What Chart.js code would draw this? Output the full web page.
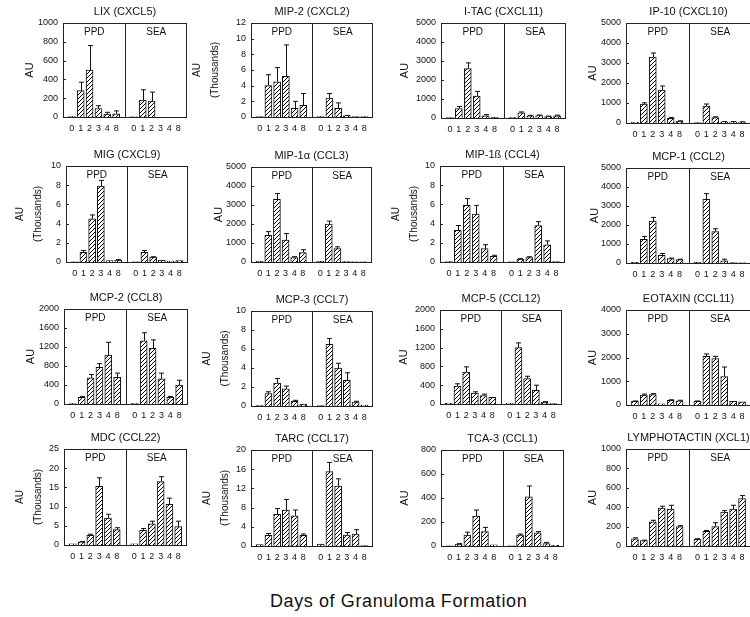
<!DOCTYPE html>
<html><head><meta charset="utf-8">
<script src="https://cdn.jsdelivr.net/npm/chart.js@4.4.1/dist/chart.umd.min.js"></script>
<style>
html,body{margin:0;padding:0;background:#fff;overflow:hidden;width:750px;height:617px;position:relative}
canvas{position:absolute}
#xlabel{position:absolute;left:270px;top:591px;white-space:nowrap;font:18px/21px "Liberation Sans",Arial,sans-serif;color:#111;letter-spacing:0.6px}
</style></head><body>
<div id="xlabel">Days of Granuloma Formation</div>
<script>
// ---------- data ----------
const DAYS = ['0','1','2','3','4','8'];
const GROUPS = ['PPD','SEA'];
const TITLES = ['LIX (CXCL5)','MIP-2 (CXCL2)','I-TAC (CXCL11)','IP-10 (CXCL10)',
  'MIG (CXCL9)','MIP-1\u03b1 (CCL3)','MIP-1\u00df (CCL4)','MCP-1 (CCL2)',
  'MCP-2 (CCL8)','MCP-3 (CCL7)','MCP-5 (CCL12)','EOTAXIN (CCL11)',
  'MDC (CCL22)','TARC (CCL17)','TCA-3 (CCL1)','LYMPHOTACTIN (XCL1)'];
const Y_MAX  = [1000, 12, 5000, 5000, 10, 5000, 10, 5000, 2000, 10, 2000, 4000, 25, 20, 800, 1000];
const Y_STEP = [200, 2, 1000, 1000, 2, 1000, 2, 1000, 400, 2, 400, 1000, 5, 4, 200, 200];
const THOUSANDS = [false,true,false,false, true,false,true,false, false,true,false,false, true,true,false,false];

const LIX_PPD = [5, 280, 500, 90, 30, 35];        const LIX_PPD_ERR = [0, 90, 260, 30, 20, 30];
const LIX_SEA = [3, 180, 170, 0, 0, 0];            const LIX_SEA_ERR = [0, 110, 95, 0, 0, 0];
const MIP2_PPD = [0.05, 4.0, 4.5, 5.2, 1.1, 1.5];  const MIP2_PPD_ERR = [0, 1.4, 1.8, 4.0, 0.9, 1.5];
const MIP2_SEA = [0.05, 2.4, 1.1, 0.15, 0.05, 0.05]; const MIP2_SEA_ERR = [0, 0.6, 0.7, 0.05, 0, 0];
const ITAC_PPD = [20, 500, 2600, 1150, 120, 30];   const ITAC_PPD_ERR = [0, 100, 300, 250, 60, 0];
const ITAC_SEA = [20, 270, 110, 130, 80, 120];     const ITAC_SEA_ERR = [0, 50, 30, 30, 20, 30];
const IP10_PPD = [30, 950, 3300, 1650, 230, 80];   const IP10_PPD_ERR = [0, 60, 200, 200, 50, 30];
const IP10_SEA = [20, 850, 270, 60, 60, 50];       const IP10_SEA_ERR = [0, 100, 40, 10, 10, 10];
const MIG_PPD = [0.02, 1.0, 4.5, 7.9, 0.15, 0.2];  const MIG_PPD_ERR = [0, 0.2, 0.4, 0.6, 0, 0.05];
const MIG_SEA = [0.02, 1.0, 0.5, 0.2, 0.1, 0.15];  const MIG_SEA_ERR = [0, 0.2, 0.05, 0, 0, 0];
const MIP1A_PPD = [30, 1400, 3300, 1150, 230, 500]; const MIP1A_PPD_ERR = [0, 200, 300, 350, 50, 150];
const MIP1A_SEA = [30, 2000, 700, 20, 10, 10];      const MIP1A_SEA_ERR = [0, 150, 100, 0, 0, 0];
const MIP1B_PPD = [0.05, 3.3, 5.9, 5.0, 1.4, 0.6];  const MIP1B_PPD_ERR = [0, 0.5, 0.7, 0.9, 0.4, 0.1];
const MIP1B_SEA = [0.02, 0.3, 0.45, 3.8, 1.8, 0.05]; const MIP1B_SEA_ERR = [0, 0.05, 0.1, 0.4, 0.4, 0];
const MCP1_PPD = [30, 1250, 2200, 400, 230, 180];  const MCP1_PPD_ERR = [0, 150, 200, 100, 30, 20];
const MCP1_SEA = [30, 3350, 1650, 120, 20, 10];    const MCP1_SEA_ERR = [0, 300, 150, 80, 0, 0];
const MCP2_PPD = [10, 140, 550, 770, 1030, 560];   const MCP2_PPD_ERR = [0, 20, 70, 80, 270, 90];
const MCP2_SEA = [10, 1330, 1170, 530, 140, 400];  const MCP2_SEA_ERR = [0, 170, 180, 120, 20, 100];
const MCP3_PPD = [0.05, 1.3, 2.4, 1.8, 0.5, 0.2];  const MCP3_PPD_ERR = [0, 0.2, 0.5, 0.3, 0.1, 0];
const MCP3_SEA = [0.05, 6.5, 4.0, 2.7, 0.4, 0.1];  const MCP3_SEA_ERR = [0, 0.6, 0.5, 0.8, 0.1, 0];
const MCP5_PPD = [20, 380, 680, 230, 180, 140];    const MCP5_PPD_ERR = [0, 50, 110, 30, 30, 0];
const MCP5_SEA = [20, 1200, 540, 290, 40, 10];     const MCP5_SEA_ERR = [0, 100, 50, 110, 10, 0];
const EOT_PPD = [150, 420, 440, 50, 200, 180];     const EOT_PPD_ERR = [20, 40, 40, 0, 20, 20];
const EOT_SEA = [150, 2050, 1950, 1200, 150, 130]; const EOT_SEA_ERR = [20, 100, 100, 400, 0, 0];
const MDC_PPD = [0.3, 0.8, 2.5, 15.3, 7.0, 4.0];   const MDC_PPD_ERR = [0, 0.1, 0.3, 2.2, 1.0, 0.5];
const MDC_SEA = [0.3, 3.8, 5.5, 16.5, 10.6, 4.8];  const MDC_SEA_ERR = [0, 0.5, 0.7, 1.3, 1.6, 1.4];
const TARC_PPD = [0.3, 2.2, 6.6, 7.5, 6.3, 2.2];   const TARC_PPD_ERR = [0, 0.4, 1.2, 2.2, 1.2, 0.3];
const TARC_SEA = [0.4, 15.5, 12.5, 2.3, 2.5, 0.1]; const TARC_SEA_ERR = [0, 1.9, 1.5, 0.5, 0.9, 0];
const TCA3_PPD = [2, 15, 90, 250, 120, 10];        const TCA3_PPD_ERR = [0, 5, 25, 50, 35, 0];
const TCA3_SEA = [2, 90, 410, 110, 20, 5];         const TCA3_SEA_ERR = [0, 10, 90, 10, 10, 0];
const LYM_PPD = [75, 55, 250, 390, 380, 200];      const LYM_PPD_ERR = [10, 5, 15, 20, 40, 10];
const LYM_SEA = [70, 150, 200, 350, 380, 490];     const LYM_SEA_ERR = [5, 10, 40, 15, 40, 30];

const SERIES = [
  [LIX_PPD, LIX_PPD_ERR, LIX_SEA, LIX_SEA_ERR],
  [MIP2_PPD, MIP2_PPD_ERR, MIP2_SEA, MIP2_SEA_ERR],
  [ITAC_PPD, ITAC_PPD_ERR, ITAC_SEA, ITAC_SEA_ERR],
  [IP10_PPD, IP10_PPD_ERR, IP10_SEA, IP10_SEA_ERR],
  [MIG_PPD, MIG_PPD_ERR, MIG_SEA, MIG_SEA_ERR],
  [MIP1A_PPD, MIP1A_PPD_ERR, MIP1A_SEA, MIP1A_SEA_ERR],
  [MIP1B_PPD, MIP1B_PPD_ERR, MIP1B_SEA, MIP1B_SEA_ERR],
  [MCP1_PPD, MCP1_PPD_ERR, MCP1_SEA, MCP1_SEA_ERR],
  [MCP2_PPD, MCP2_PPD_ERR, MCP2_SEA, MCP2_SEA_ERR],
  [MCP3_PPD, MCP3_PPD_ERR, MCP3_SEA, MCP3_SEA_ERR],
  [MCP5_PPD, MCP5_PPD_ERR, MCP5_SEA, MCP5_SEA_ERR],
  [EOT_PPD, EOT_PPD_ERR, EOT_SEA, EOT_SEA_ERR],
  [MDC_PPD, MDC_PPD_ERR, MDC_SEA, MDC_SEA_ERR],
  [TARC_PPD, TARC_PPD_ERR, TARC_SEA, TARC_SEA_ERR],
  [TCA3_PPD, TCA3_PPD_ERR, TCA3_SEA, TCA3_SEA_ERR],
  [LYM_PPD, LYM_PPD_ERR, LYM_SEA, LYM_SEA_ERR]
];

// ---------- layout: plot box left, top, right, bottom, x of "AU" ----------
const LAYOUT = [
  [63, 23, 192, 117, 30], [251, 23, 378, 117, 197], [441, 23, 571, 118, 405], [626, 23, 756, 123, 593],
  [66, 166, 193, 262, 20], [251, 167, 377, 262, 219], [440, 166, 570, 262, 396], [626, 168, 756, 263, 595],
  [64, 309, 193, 404, 31], [251, 311, 378, 406, 207], [440, 310, 567, 404, 404], [626, 310, 756, 405, 593],
  [64, 449, 192, 545, 20], [251, 450, 378, 546, 207], [441, 450, 569, 546, 405], [626, 449, 756, 546, 593]
];

const FONT = '"Liberation Sans", Arial, Helvetica, sans-serif';
Chart.defaults.font.family = FONT;
Chart.defaults.color = '#111';

function makeHatch() {
  const c = document.createElement('canvas');
  c.width = 4; c.height = 4;
  const g = c.getContext('2d');
  g.fillStyle = '#fff'; g.fillRect(0, 0, 4, 4);
  g.strokeStyle = '#000'; g.lineWidth = 1;
  g.beginPath();
  g.moveTo(0, 4); g.lineTo(4, 0);
  g.moveTo(-1, 1); g.lineTo(1, -1);
  g.moveTo(3, 5); g.lineTo(5, 3);
  g.stroke();
  return g.createPattern(c, 'repeat');
}

const decor = {
  id: 'decor',
  afterDatasetsDraw(chart, args, opts) {
    const { ctx, chartArea: a, scales } = chart;
    const y = scales.y, x = scales.x;
    ctx.save();
    // error bars
    const meta = chart.getDatasetMeta(0);
    const vals = chart.data.datasets[0].data;
    ctx.strokeStyle = '#111'; ctx.lineWidth = 1;
    opts.errs.forEach((e, i) => {
      if (vals[i] == null || !e) return;
      const bar = meta.data[i];
      const top = y.getPixelForValue(vals[i] + e);
      const bx = Math.round(bar.x) + 0.5;
      ctx.beginPath();
      ctx.moveTo(bx, bar.y); ctx.lineTo(bx, top);
      ctx.moveTo(bx - 2.5, top); ctx.lineTo(bx + 2.5, top);
      ctx.stroke();
    });
    // frame
    ctx.strokeStyle = '#222';
    ctx.strokeRect(Math.round(a.left) + 0.5, Math.round(a.top) + 0.5,
      Math.round(a.right - a.left) - 1, Math.round(a.bottom - a.top));
    // divider between groups
    const mid = Math.round(x.getPixelForValue(7)) + 0.5;
    ctx.beginPath(); ctx.moveTo(mid, a.top); ctx.lineTo(mid, a.bottom); ctx.stroke();
    // small inside ticks on y axis
    y.ticks.forEach(t => {
      const py = Math.round(y.getPixelForValue(t.value)) + 0.5;
      ctx.beginPath(); ctx.moveTo(a.left, py); ctx.lineTo(a.left + 3, py); ctx.stroke();
    });
    // group labels
    ctx.fillStyle = '#111';
    ctx.font = '10px ' + FONT;
    ctx.textAlign = 'center'; ctx.textBaseline = 'middle';
    ctx.fillText(GROUPS[0], (a.left + mid) / 2, a.top + 9);
    ctx.fillText(GROUPS[1], (mid + a.right) / 2, a.top + 9);
    // panel title
    ctx.font = '11px ' + FONT;
    ctx.fillText(opts.title, (a.left + a.right) / 2, a.top - 11);
    ctx.restore();
  }
};

const hatch = makeHatch();

TITLES.forEach((title, i) => {
  const [bl, bt, br, bb, ax] = LAYOUT[i];
  const two = THOUSANDS[i];
  const lh = two ? 18 : 12;
  const cl = ax - lh / 2;
  const ct = bt - 26;
  const cw = br - cl + 1;
  const ch = bb - ct + 20;
  const cv = document.createElement('canvas');
  cv.width = cw; cv.height = ch;
  cv.style.left = cl + 'px'; cv.style.top = ct + 'px';
  cv.style.width = cw + 'px'; cv.style.height = ch + 'px';
  document.body.appendChild(cv);

  const [ppd, ppdErr, sea, seaErr] = SERIES[i];
  const labels = ['', ...DAYS, '', ...DAYS, ''];
  const data = [null, ...ppd, null, ...sea, null];
  const errs = [null, ...ppdErr, null, ...seaErr, null];

  new Chart(cv, {
    type: 'bar',
    data: { labels, datasets: [{
      data, backgroundColor: hatch, borderColor: '#111', borderWidth: 1, barThickness: 7
    }] },
    options: {
      responsive: false, animation: false, devicePixelRatio: 1,
      layout: { padding: { top: 26, right: 1, left: 0, bottom: 0 } },
      plugins: { legend: { display: false }, tooltip: { enabled: false },
        decor: { errs, title } },
      scales: {
        x: { type: 'category', offset: false,
          grid: { display: false, drawTicks: false }, border: { display: false },
          ticks: { autoSkip: false, maxRotation: 0, minRotation: 0, padding: 6, font: { size: 9 }, color: '#111' },
          afterFit(s) { s.height = 20; } },
        y: { min: 0, max: Y_MAX[i],
          grid: { display: false, drawTicks: false }, border: { display: false },
          ticks: { stepSize: Y_STEP[i], padding: 5, font: { size: 9 }, color: '#111',
            callback: v => String(v) },
          title: { display: true, text: two ? ['AU', '(Thousands)'] : 'AU', padding: 0,
            font: { size: two ? 10 : 11, lineHeight: lh + 'px' }, color: '#111' },
          afterFit(s) { s.width = bl - cl; } }
      }
    },
    plugins: [decor]
  });
});
</script>
</body></html>
